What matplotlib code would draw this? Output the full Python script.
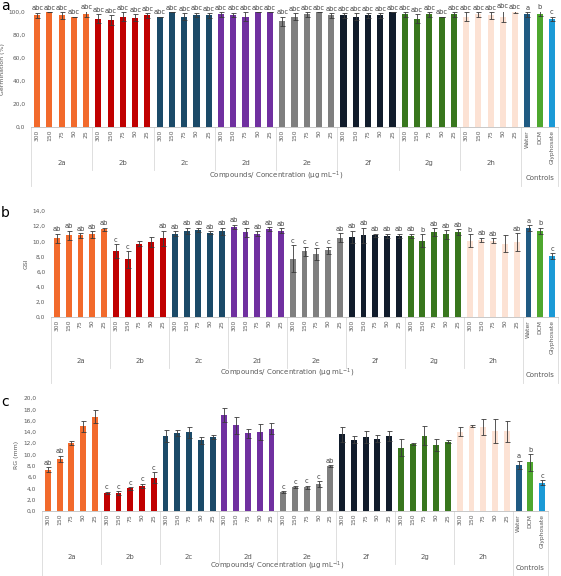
import matplotlib.pyplot as plt
import matplotlib.transforms as mtransforms

# categories
groups = ["2a", "2b", "2c", "2d", "2e", "2f", "2g", "2h"]
concs = ["300", "150", "75", "50", "25"]
controls = ["Water", "DCM", "Glyphosate"]

group_colors = ["#F26A2C", "#C00000", "#1B4A68", "#7030A0", "#7F7F7F",
                "#111C2B", "#38761D", "#FCE2D4"]
control_colors = ["#1F5A82", "#4EA72E", "#1B9AD6"]

# panel a - Germination (%)
germ = [97, 100, 97, 96, 98,
        94, 93, 96, 95, 97,
        96, 100, 96, 97.5, 97,
        98, 97.5, 96, 100, 100,
        92, 96, 98, 100, 97,
        97, 96, 97, 97, 100,
        98, 94, 98, 96, 98,
        96, 98, 97, 96, 100,
        98, 98.5, 94]
germ_err = [2.5, 0, 3, 0, 2.5,
            4, 4, 4, 3, 2,
            0, 0, 3, 2, 2,
            2, 2, 4, 0, 0,
            4, 3, 2, 0, 2,
            2, 3, 2, 2, 0,
            2, 4, 2, 0, 2,
            4, 2, 3, 5, 0.5,
            2, 2, 2]
germ_sig = ["abc"] * 40 + ["a", "b", "c"]

# panel b - GSI
gsi = [10.4, 10.8, 10.8, 10.9, 11.6,
       8.7, 7.6, 9.7, 9.9, 10.4,
       11.0, 11.4, 11.5, 11.1, 11.3,
       11.9, 11.2, 11.0, 11.6, 11.4,
       7.7, 8.7, 8.3, 8.8, 10.5,
       10.6, 10.8, 10.8, 10.7, 10.7,
       10.7, 10.1, 11.2, 10.9, 11.2,
       10.1, 10.2, 10.1, 9.7, 9.9,
       11.7, 11.4, 8.0]
gsi_err = [0.6, 0.6, 0.3, 0.4, 0.2,
           0.9, 1.1, 0.3, 0.7, 1.0,
           0.3, 0.4, 0.3, 0.2, 0.5,
           0.3, 0.6, 0.3, 0.3, 0.3,
           1.8, 0.6, 0.8, 0.5, 0.6,
           0.8, 1.0, 0.2, 0.3, 0.3,
           0.3, 0.8, 0.5, 0.6, 0.4,
           0.8, 0.3, 0.3, 1.1, 1.2,
           0.4, 0.4, 0.4]
gsi_sig = ["ab"] * 5 + ["c", "c", "", "", "ab"] + ["ab"] * 10 + \
          ["c", "c", "c", "c", "ab"] + ["ab"] * 5 + \
          ["ab", "b", "ab", "ab", "ab"] + ["b", "ab", "ab", "", "ab"] + ["a", "b", "c"]

# panel c - RG (mm)
rg = [7.3, 9.2, 12.0, 15.0, 16.7,
      3.2, 3.2, 4.0, 4.4, 5.9,
      13.3, 13.8, 13.9, 12.5, 13.1,
      17.0, 15.2, 13.8, 14.0, 14.6,
      3.3, 4.2, 4.2, 4.8, 7.9,
      13.6, 12.6, 13.1, 12.8, 13.3,
      11.2, 11.8, 13.3, 11.7, 12.3,
      14.0, 15.0, 14.8, 14.1, 14.1,
      8.2, 8.6, 5.0]
rg_err = [0.4, 0.6, 0.4, 1.0, 1.2,
          0.2, 0.3, 0.2, 0.4, 1.0,
          1.0, 0.6, 0.9, 0.6, 0.3,
          1.2, 1.5, 0.8, 1.4, 1.0,
          0.2, 0.2, 0.3, 0.5, 0.2,
          1.3, 0.6, 1.0, 0.6, 0.9,
          1.5, 0.2, 1.7, 1.1, 0.2,
          0.8, 0.2, 1.4, 2.1, 1.9,
          0.7, 1.5, 0.4]
rg_sig = ["ab", "ab", "", "", ""] + ["c"] * 5 + [""] * 10 + \
         ["c", "c", "c", "c", "ab"] + [""] * 15 + ["a", "b", "c"]

W, H = 561, 576
fig = plt.figure(figsize=(W / 100, H / 100), dpi=100)

tick_labels = concs * len(groups) + controls
colors = [c for c in group_colors for _ in concs] + control_colors
x = list(range(len(tick_labels)))
grey = "#595959"


def panel(letter, letter_y, left, right, top, bottom, vals, errs, sig, ymax, ystep,
          ylabel, row_y, ctrl_y):
    ax = fig.add_axes([left / W, 1 - bottom / H, (right - left) / W, (bottom - top) / H])
    ax.bar(x, vals, width=0.5, color=colors)
    ax.errorbar(x, vals, yerr=errs, fmt="none", ecolor="#3a3a3a",
                elinewidth=0.6, capsize=1.8, capthick=0.6)
    for xi, v, e, s in zip(x, vals, errs, sig):
        if s:
            ax.annotate(s, (xi, v + e), xytext=(0, 1.0), textcoords="offset points",
                        ha="center", va="bottom", fontsize=4.8, color="#404040",
                        annotation_clip=False)
    ax.set_xlim(-0.5, len(x) - 0.5)
    ax.set_ylim(0, ymax)
    yt = [i * ystep for i in range(int(ymax / ystep) + 1)]
    ax.set_yticks(yt)
    ax.set_yticklabels([f"{v:.1f}".replace(".", ",") for v in yt], fontsize=4.2, color=grey)
    ax.set_xticks(x)
    ax.set_xticklabels(tick_labels, rotation=90, fontsize=4.3, color=grey)
    ax.tick_params(length=0, pad=2)
    ax.tick_params(axis="y", pad=4)
    for s in ["top", "right", "left"]:
        ax.spines[s].set_visible(False)
    ax.spines["bottom"].set_color("#bfbfbf")
    ax.spines["bottom"].set_linewidth(0.6)
    ax.set_ylabel(ylabel, fontsize=4.5, color=grey, labelpad=3)

    tr = mtransforms.blended_transform_factory(ax.transData, fig.transFigure)
    fy = lambda py: 1 - py / H
    # group separators
    for k in range(1, len(groups)):
        xs = k * 5 - 0.5
        ax.plot([xs, xs], [fy(bottom), fy(row_y + 7)], color="#d9d9d9", lw=0.6,
                transform=tr, clip_on=False)
    for xs in [-0.5, len(groups) * 5 - 0.5, len(x) - 0.5]:
        ax.plot([xs, xs], [fy(bottom), fy(ctrl_y + 8)], color="#d9d9d9", lw=0.6,
                transform=tr, clip_on=False)
    for k, g in enumerate(groups):
        ax.text(k * 5 + 2, fy(row_y), g, transform=tr, ha="center", va="center",
                fontsize=5, color=grey)
    ax.text(len(groups) * 5 + 1, fy(ctrl_y), "Controls", transform=tr,
            ha="center", va="center", fontsize=5, color=grey)
    ax.text(19.5, fy(ctrl_y - 2), "Compounds/ Concentration (\u03bcg mL$^{-1}$)", transform=tr,
            ha="center", va="center", fontsize=5, color=grey)
    fig.text(1 / W, fy(letter_y), letter, fontsize=10, ha="left", va="center")
    return ax


panel("a", 6, 31, 558, 12, 127, germ, germ_err, germ_sig, 100, 20,
      "Germination (%)", 163, 178)
panel("b", 213, 51, 558, 211, 317, gsi, gsi_err, gsi_sig, 14, 2,
      "GSI", 361, 375)
panel("c", 402, 42, 548, 398, 511, rg, rg_err, rg_sig, 20, 2,
      "RG (mm)", 557, 568)

fig.savefig("out.png", dpi=100)
